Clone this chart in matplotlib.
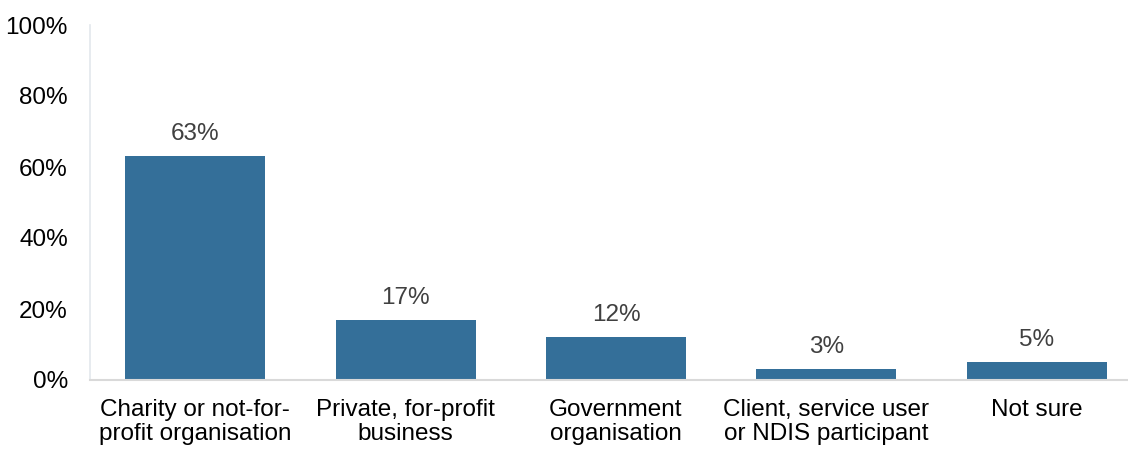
import numpy as np
from matplotlib import pyplot as plt

plt.rcParams['font.family'] = ['Liberation Sans', 'DejaVu Sans']

categories = ["Charity or not-for-\nprofit organisation", "Private, for-profit\nbusiness",
              "Government\norganisation", "Client, service user\nor NDIS participant", "Not sure"]
values = [63, 17, 12, 3, 5]
y_ticks = [0, 20, 40, 60, 80, 100]

fig = plt.figure(figsize=(11.28, 4.5), dpi=100)
# right edge of the axes runs past the figure, as in the original (cropped)
ax = fig.add_axes([90 / 1128, 70 / 450, 1052 / 1128, 355 / 450])

x = np.arange(len(categories))
bars = ax.bar(x, values, width=0.665, color='#346f99')

for xi, v in zip(x, values):
    ax.annotate(f"{v}%", (xi, v), xytext=(0, 8), textcoords='offset points',
                ha='center', va='bottom', fontsize=17.5, color='#404040')

ax.set_xlim(-0.5, len(categories) - 0.5)
ax.set_ylim(0, 100)
ax.set_yticks(y_ticks)
ax.set_yticklabels([f"{t}%" for t in y_ticks], fontsize=17.5)
ax.set_xticks(x)
ax.set_xticklabels(categories, fontsize=17.5, linespacing=1.12)
ax.tick_params(axis='both', length=0, colors='black')
ax.tick_params(axis='x', pad=14)
ax.tick_params(axis='y', pad=16)

for s in ['top', 'right']:
    ax.spines[s].set_visible(False)
ax.spines['left'].set_color('#e3e7ec')
ax.spines['left'].set_linewidth(1.2)
ax.spines['bottom'].set_color('#d9d9d9')
ax.spines['bottom'].set_linewidth(1.5)

fig.savefig("out.png", dpi=100)
